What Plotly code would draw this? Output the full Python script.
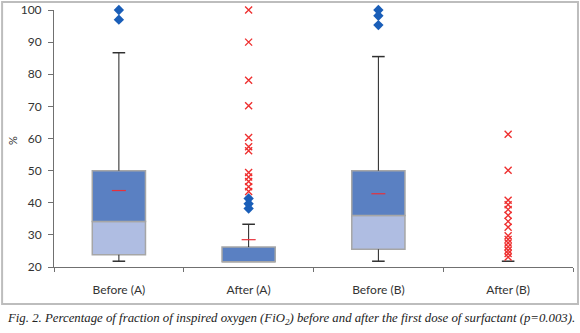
import plotly.graph_objects as go

categories = ["Before (A)", "After (A)", "Before (B)", "After (B)"]
q1 = [23.8, 21.6, 25.5, None]
median = [34.2, 21.6, 36.0, None]
q3 = [50.0, 26.2, 50.0, None]
whisker_low = [21.8, None, 21.8, 21.8]
whisker_high = [86.7, 33.3, 85.5, None]
mean = [43.8, 28.5, 42.8, None]

before_a_outliers = [100.0, 97.0]
after_a_outliers = [41.3, 39.7, 38.2]
before_b_outliers = [100.0, 98.2, 95.3]
after_a_extremes = [100.0, 90.0, 78.1, 70.2, 60.3, 57.4, 56.2, 49.4, 48.0, 46.6, 45.0, 43.5]
after_b_extremes = [61.3, 50.1, 40.8, 39.4, 37.9, 36.1, 34.2, 32.4,
                    29.7, 28.6, 27.5, 26.3, 25.2, 24.2, 23.1]

y_ticks = [20, 30, 40, 50, 60, 70, 80, 90, 100]

fig = go.Figure()

lower_h = [None if a is None else m - a for a, m in zip(q1, median)]
upper_h = [None if m is None else b - m for m, b in zip(median, q3)]

box_line = dict(color="#A6A6A6", width=1.5)
fig.add_trace(go.Bar(x=categories, y=lower_h, base=q1, width=0.41,
                     marker=dict(color="#AFBDE2", line=box_line), showlegend=False))
fig.add_trace(go.Bar(x=categories, y=upper_h, base=median, width=0.41,
                     marker=dict(color="#5A80C2", line=box_line), showlegend=False))

# whisker lines
wx, wy = [], []
for c, a, b, lo, hi in zip(categories, q1, q3, whisker_low, whisker_high):
    if hi is not None and b is not None:
        wx += [c, c, None]
        wy += [b, hi, None]
    if lo is not None and a is not None:
        wx += [c, c, None]
        wy += [a, lo, None]
fig.add_trace(go.Scatter(x=wx, y=wy, mode="lines", line=dict(color="#202020", width=1),
                         showlegend=False, hoverinfo="skip", cliponaxis=False))

# caps
cx, cy = [], []
for c, lo, hi in zip(categories, whisker_low, whisker_high):
    for v in (lo, hi):
        if v is not None:
            cx.append(c)
            cy.append(v)
fig.add_trace(go.Scatter(x=cx, y=cy, mode="markers",
                         marker=dict(symbol="line-ew", size=9, line=dict(color="#303030", width=1.5)),
                         showlegend=False, cliponaxis=False))

# means
fig.add_trace(go.Scatter(x=categories, y=mean, mode="markers",
                         marker=dict(symbol="line-ew", size=10, line=dict(color="#E8303A", width=1.2)),
                         showlegend=False, cliponaxis=False))

# mild outliers
ox = ([categories[0]] * len(before_a_outliers) + [categories[1]] * len(after_a_outliers)
      + [categories[2]] * len(before_b_outliers))
oy = before_a_outliers + after_a_outliers + before_b_outliers
fig.add_trace(go.Scatter(x=ox, y=oy, mode="markers",
                         marker=dict(symbol="diamond", size=8, color="#1A5EB8"),
                         showlegend=False, cliponaxis=False))

# extreme outliers
ex = [categories[1]] * len(after_a_extremes) + [categories[3]] * len(after_b_extremes)
ey = after_a_extremes + after_b_extremes
fig.add_trace(go.Scatter(x=ex, y=ey, mode="markers",
                         marker=dict(symbol="x-thin-open", size=7, color="#EE3030",
                                     line=dict(color="#EE3030", width=1.4)),
                         showlegend=False, cliponaxis=False))

fig.update_layout(
    width=580, height=333,
    margin=dict(l=54, r=7, t=10, b=66, autoexpand=False),
    paper_bgcolor="white", plot_bgcolor="white",
    barmode="overlay",
    font=dict(family="Lato, Open Sans, sans-serif", size=12, color="#333333"),
    xaxis=dict(type="category", categoryorder="array", categoryarray=categories,
               showline=True, linecolor="#707070", linewidth=1, automargin=False,
               ticks="outside", tickson="boundaries", ticklen=4, tickcolor="#707070",
               showgrid=False, zeroline=False, ticklabelstandoff=12),
    yaxis=dict(range=[20, 100], tickvals=y_ticks, showline=True, linecolor="#707070",
               linewidth=1, ticks="outside", ticklen=5, tickcolor="#707070",
               showgrid=False, zeroline=False, automargin=False, ticklabelstandoff=4),
    shapes=[dict(type="rect", xref="paper", yref="paper",
                 x0=-0.1, x1=1.0096, y0=-0.144, y1=1.031,
                 line=dict(color="#BDBDBD", width=2), fillcolor="rgba(0,0,0,0)")],
    annotations=[
        dict(xref="paper", yref="paper", x=-0.081, y=0.494, textangle=-90,
             xanchor="center", yanchor="middle", showarrow=False, text="%",
             font=dict(size=11, color="#333333")),
        dict(xref="paper", yref="paper", x=-0.095, y=-0.165,
             xanchor="left", yanchor="top", showarrow=False,
             text="<i>Fig. 2. Percentage of fraction of inspired oxygen (FiO<sub>2</sub>) before and after the first dose of surfactant (p=0.003).</i>",
             font=dict(family="Liberation Serif, DejaVu Serif, serif", size=12.8, color="#222222"))],
)

fig.write_html("out.html", config={"displayModeBar": False},
               post_script="document.body.style.margin='0';document.body.style.overflow='hidden';")
